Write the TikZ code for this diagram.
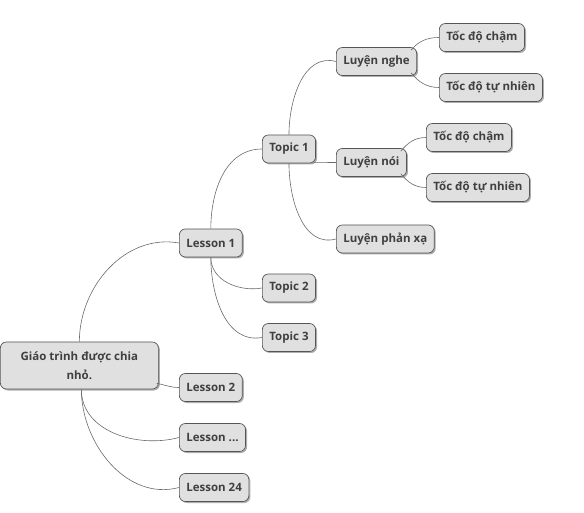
\documentclass[tikz,border=0pt]{standalone}
\usepackage{fontspec}
\setmainfont{Open Sans}
\usepackage{tikz}
\usetikzlibrary{shadows}
\usepackage{xcolor}
\definecolor{boxfill}{HTML}{E0E0E0}
\definecolor{boxline}{HTML}{555555}
\definecolor{boxtext}{HTML}{404040}
\definecolor{link}{HTML}{6A6A6A}

\begin{document}
\begin{tikzpicture}[x=1pt,y=1pt,
  box/.style={draw=boxline, line width=0.7pt, fill=boxfill, rounded corners=6pt,
    anchor=west, inner xsep=7pt, minimum height=28pt, text=boxtext,
    font=\fontsize{11.5pt}{19pt}\selectfont\bfseries,
    drop shadow={shadow xshift=1.5pt, shadow yshift=-1.5pt, fill=black!70, opacity=0.45}},
  rootbox/.style={box, minimum width=158pt, minimum height=47pt, align=center},
  link/.style={draw=link, line width=0.6pt}]
\useasboundingbox (0,0) rectangle (584,512);
% nodes
\node[rootbox] (root) at (0,146.5) {Giáo trình được chia\\nhỏ.};
\node[box] (lessonA) at (179,269) {Lesson 1};
\node[box] (lessonB) at (179,124.5) {Lesson 2};
\node[box] (lessonC) at (179,74.5) {Lesson ...};
\node[box] (lessonD) at (179,24.5) {Lesson 24};
\node[box] (topicA) at (262,363) {Topic 1};
\node[box] (topicB) at (262,224) {Topic 2};
\node[box] (topicC) at (262,174.5) {Topic 3};
\node[box] (nghe) at (336,450.5) {Luyện nghe};
\node[box] (noi) at (336,349.5) {Luyện nói};
\node[box] (phanxa) at (336,273) {Luyện phản xạ};
\node[box] (ngheA) at (439,474.5) {Tốc độ chậm};
\node[box] (ngheB) at (439,424.5) {Tốc độ tự nhiên};
\node[box] (noiA) at (426,374.5) {Tốc độ chậm};
\node[box] (noiB) at (426,324.5) {Tốc độ tự nhiên};
% connectors
\path[link] (root.north) to[out=90,in=170] (lessonA.west);
\path[link] ([xshift=-2pt,yshift=6pt]root.south east) to[out=-10,in=180] (lessonB.west);
\path[link] ([xshift=2pt]root.south) to[out=-90,in=195] (lessonC.west);
\path[link] ([xshift=2pt]root.south) to[out=-90,in=195] (lessonD.west);
\path[link] (lessonA.north) to[out=90,in=180] (topicA.west);
\path[link] (lessonA.south) to[out=-90,in=190] (topicB.west);
\path[link] (lessonA.south) to[out=-90,in=190] (topicC.west);
\path[link] (topicA.north) to[out=90,in=165] (nghe.west);
\path[link] ([xshift=-2pt,yshift=1pt]topicA.south east) to[out=0,in=180] (noi.west);
\path[link] (topicA.south) to[out=-90,in=195] (phanxa.west);
\path[link] ([xshift=-6pt,yshift=-3pt]nghe.north east) to[out=50,in=180] (ngheA.west);
\path[link] ([xshift=-6pt,yshift=3pt]nghe.south east) to[out=-50,in=180] (ngheB.west);
\path[link] ([xshift=-6pt,yshift=-3pt]noi.north east) to[out=50,in=180] (noiA.west);
\path[link] ([xshift=-6pt,yshift=3pt]noi.south east) to[out=-50,in=180] (noiB.west);
\end{tikzpicture}
\end{document}
